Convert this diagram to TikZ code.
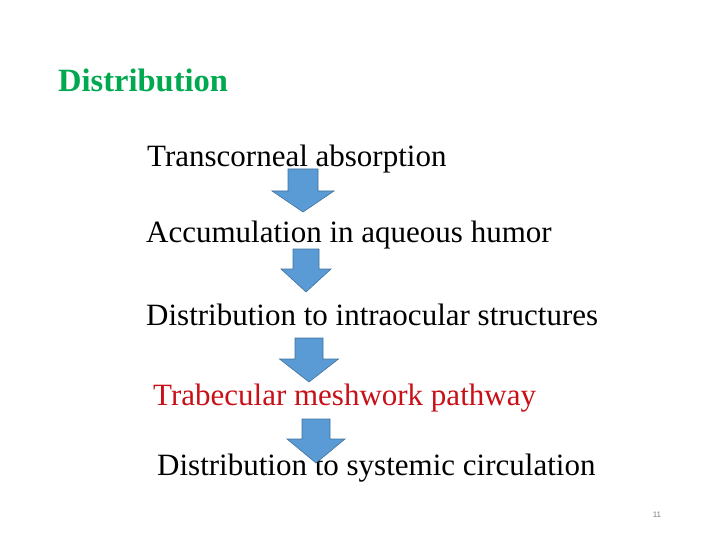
\documentclass[tikz,border=0pt]{standalone}
\usepackage{fontspec}
\setmainfont{Liberation Serif}
\newfontfamily\pagefont{Liberation Sans}
\usepackage{tikz}
\usetikzlibrary{positioning}
\definecolor{mygreen}{RGB}{0,168,80}
\definecolor{myred}{RGB}{200,16,24}
\definecolor{arrowblue}{RGB}{91,155,213}
\definecolor{arrowedge}{RGB}{65,113,156}

\tikzset{
  steptext/.style={anchor=base west, inner sep=0pt, font=\fontsize{31}{36}\selectfont},
  blockarrow/.style={fill=arrowblue, draw=arrowedge, line width=0.6pt, line join=miter}
}

% block arrow: center x, top y, shaft half width, head half width, head start y, tip y
\newcommand{\downarrowblock}[6]{%
  \draw[blockarrow] (#1-#3,#2) -- (#1+#3,#2) -- (#1+#3,#5) -- (#1+#4,#5)
    -- (#1,#6) -- (#1-#4,#5) -- (#1-#3,#5) -- cycle;}

\begin{document}
\begin{tikzpicture}[x=1pt,y=-1pt]
\useasboundingbox (0,0) rectangle (720,540);

% Title
\node[anchor=base west, inner sep=0pt, text=mygreen, font=\fontsize{32.5}{38}\selectfont\bfseries] (title) at (58,92) {Distribution};

% Steps
\node[steptext] (absorption) at (147,167) {Transcorneal absorption};
\node[steptext] (humor) at (146,243) {Accumulation in aqueous humor};
\node[steptext] (structures) at (146,325) {Distribution to intraocular structures};
\node[steptext, text=myred] (meshwork) at (153,405) {Trabecular meshwork pathway};
\node[steptext] (systemic) at (157,475) {Distribution to systemic circulation};

% Arrows
\downarrowblock{303}{169}{15}{31}{191}{212}
\downarrowblock{306}{249}{13}{25}{269}{292}
\downarrowblock{309}{338}{14}{29.5}{359}{382}
\downarrowblock{316}{419}{14}{29}{439}{463}

% Page number
\node[inner sep=0pt, text=gray, font=\pagefont\fontsize{8}{9}\selectfont] (pagenum) at (657,515) {11};

\end{tikzpicture}
\end{document}
